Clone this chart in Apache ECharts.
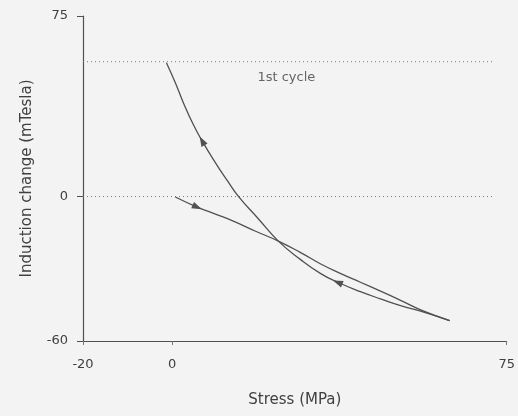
<!DOCTYPE html>
<html>
<head>
<meta charset="utf-8">
<script src="https://cdn.jsdelivr.net/npm/echarts@6/dist/echarts.min.js"></script>
<style>
html,body{margin:0;padding:0;background:#f3f3f3;}
#c{width:518px;height:416px;}
</style>
</head>
<body>
<div id="c"></div>
<script>
// Stress (MPa) and induction change (mTesla)
const loadStress   = [0.7, 5.6, 9.7, 13.7, 18.7, 23.8, 28.8, 33.3, 37.8, 42.2, 46.7, 51.2, 56.4, 62.2];
const loadInduct   = [-0.2, -4.4, -7.3, -10.2, -14.4, -18.5, -23.3, -28.0, -32.0, -35.6, -39.3, -43.1, -47.6, -51.5];
const unloadStress = [62.2, 56.4, 51.2, 46.7, 42.2, 37.1, 33.3, 28.8, 23.8, 19.3, 14.8, 12.4, 9.7, 6.7, 4.7, 2.5, 0.7, -1.3];
const unloadInduct = [-51.5, -48.0, -45.3, -42.5, -39.5, -35.6, -32.0, -26.2, -18.5, -9.2, 0.2, 6.5, 14, 23.1, 30.0, 39, 47.3, 55.6];
// arrows on curves
const arrowStress = [5.6, 6.7, 37.1];
const arrowInduct = [-4.4, 23.1, -35.6];
const arrowAngle  = [-114, 29, 68];
// dotted reference levels
const refLevels = [56, 0];
const refStart = -20, refEnd = 72;
// annotation
const noteText = '1st cycle';
const notePos = [19.1, 49.4];
// ticks
const xTicks = [-20, 0, 75];
const yTicks = [-60, 0, 75];

const chart = echarts.init(document.getElementById('c'), null, {renderer: 'canvas'});
const lineColor = '#505050';
const textColor = '#404040';
const font = 'DejaVu Sans';

const series = [];
refLevels.forEach(v => {
  series.push({
    type: 'line', data: [[refStart, v], [refEnd, v]], symbol: 'none', silent: true,
    lineStyle: {color: '#777', width: 1, type: [1, 3]}
  });
});
series.push({
  type: 'line', data: loadStress.map((s, i) => [s, loadInduct[i]]), symbol: 'none',
  smooth: 0.5, lineStyle: {color: lineColor, width: 1.3}
});
series.push({
  type: 'line', data: unloadStress.map((s, i) => [s, unloadInduct[i]]), symbol: 'none',
  smooth: 0.5, lineStyle: {color: lineColor, width: 1.3}
});
series.push({
  type: 'scatter', symbol: 'triangle', symbolSize: [7, 10],
  data: arrowStress.map((s, i) => ({value: [s, arrowInduct[i]], symbolRotate: arrowAngle[i]})),
  itemStyle: {color: '#2a2a2a'}
});
series.push({
  type: 'scatter', symbolSize: 0, data: [notePos],
  label: {show: true, position: 'right', distance: 0, formatter: noteText,
          color: textColor, fontSize: 13, fontFamily: font}
});

chart.setOption({
  backgroundColor: '#f3f3f3',
  animation: false,
  grid: {left: 83, right: 11, top: 16, bottom: 75},
  xAxis: {
    type: 'value', min: -20, max: 75,
    name: 'Stress (MPa)', nameLocation: 'middle', nameGap: 52,
    nameTextStyle: {color: textColor, fontSize: 15, fontFamily: font},
    axisLine: {show: true, onZero: false, lineStyle: {color: lineColor, width: 1.2}},
    axisTick: {show: true, customValues: xTicks, length: 4, lineStyle: {color: '#777'}},
    axisLabel: {customValues: xTicks, color: textColor, fontSize: 13, fontFamily: font, margin: 17},
    splitLine: {show: false}
  },
  yAxis: {
    type: 'value', min: -60, max: 75,
    name: 'Induction change (mTesla)', nameLocation: 'middle', nameGap: 48,
    nameTextStyle: {color: textColor, fontSize: 15, fontFamily: font},
    axisLine: {show: true, onZero: false, lineStyle: {color: lineColor, width: 1.2}},
    axisTick: {show: true, customValues: yTicks, length: 6, lineStyle: {color: lineColor}},
    axisLabel: {customValues: yTicks, color: textColor, fontSize: 13, fontFamily: font, margin: 15},
    splitLine: {show: false}
  },
  series: series
});
</script>
</body>
</html>
